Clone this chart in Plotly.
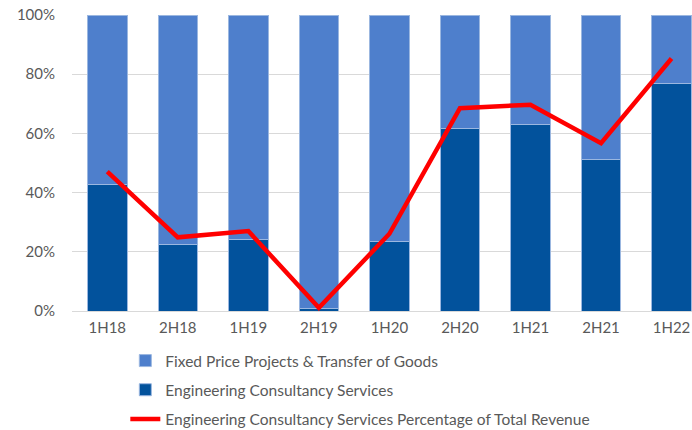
import plotly.graph_objects as go

periods = ['1H18', '2H18', '1H19', '2H19', '1H20', '2H20', '1H21', '2H21', '1H22']
engineering = [42.6, 22.5, 24.2, 0.7, 23.4, 61.7, 63.1, 51.2, 76.9]
fixed_price = [100 - v for v in engineering]
eng_pct_revenue = [47.1, 24.9, 27.0, 1.1, 26.1, 68.5, 69.7, 56.7, 85.3]

light_blue = '#4e7fcc'
dark_blue = '#02529c'
grey_text = '#595959'

fig = go.Figure()

# stacked bars, dark part at the bottom
fig.add_trace(go.Bar(x=periods, y=engineering, name='Engineering Consultancy Services',
                     marker=dict(color=dark_blue, line=dict(color='#9bb7e0', width=1)),
                     width=0.56, legendrank=2, legendgroup='b'))
fig.add_trace(go.Bar(x=periods, y=fixed_price, name='Fixed Price Projects & Transfer of Goods',
                     marker=dict(color=light_blue, line=dict(color='#9bb7e0', width=1)),
                     width=0.56, legendrank=1, legendgroup='a'))

fig.add_trace(go.Scatter(x=periods, y=eng_pct_revenue, mode='lines',
                         name='Engineering Consultancy Services Percentage of Total Revenue',
                         line=dict(color='#ff0000', width=4.5), legendrank=3, legendgroup='c'))

fig.update_layout(
    width=692, height=430,
    barmode='stack',
    plot_bgcolor='white', paper_bgcolor='white',
    margin=dict(l=72, r=0, t=15, b=119),
    font=dict(family='Lato, Open Sans, sans-serif', size=15, color=grey_text),
    legend=dict(orientation='v', x=0.086, y=0.2, yref='container', xanchor='left', yanchor='top',
                traceorder='grouped', tracegroupgap=6, font=dict(size=15.5, color=grey_text),
                bgcolor='rgba(0,0,0,0)'),
)

fig.update_xaxes(range=[-0.5, 8.29], showgrid=False, showline=False, ticks='',
                 automargin=False, ticklabelstandoff=6,
                 tickfont=dict(size=15, color=grey_text))
fig.update_yaxes(range=[0, 100], dtick=20, ticksuffix='%', showgrid=True,
                 gridcolor='#d9d9d9', gridwidth=1, zeroline=True, zerolinecolor='#d9d9d9',
                 zerolinewidth=1, ticks='', automargin=False, ticklabelstandoff=16,
                 tickfont=dict(size=15, color=grey_text))

# page body has a default 8px margin, drop it so the figure fills the window
fig.write_html('out.html', config={'displayModeBar': False},
               post_script="document.body.style.margin='0';")
